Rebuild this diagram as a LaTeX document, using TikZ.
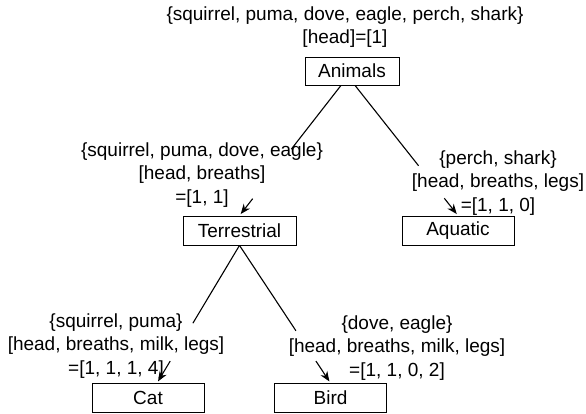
\documentclass[tikz,border=0pt]{standalone}
\usepackage{fontspec}
\setmainfont{Liberation Sans}
\usetikzlibrary{arrows.meta}
\newcommand\fsL{\fontsize{19}{23.5}\selectfont}

\begin{document}
\begin{tikzpicture}[x=1pt,y=-1pt,
  box/.style={draw,line width=0.8pt,minimum height=29pt,inner sep=0,font=\fsL},
  lbl/.style={align=center,font=\fsL,inner sep=0},
  edge/.style={line width=1.1pt},
  tip/.style={line width=1.1pt,shorten >=2pt,-{Stealth[length=10pt,width=8pt]}}]
\useasboundingbox (0,0) rectangle (586,414);
% ============ classes ============
\node[box,minimum width=94pt,minimum height=28pt] (animals) at (352,71) {Animals};
\node[box,minimum width=113pt] (terr)    at (239.5,230.5) {Terrestrial};
\node[box,minimum width=112pt] (aqua)    at (458,230.5)   {Aquatic};
\node[box,minimum width=112pt] (cat)     at (148,398)     {Cat};
\node[box,minimum width=112pt] (bird)    at (330.5,398)   {Bird};
% ============ splits ============
\coordinate (al) at ([xshift=-11pt]animals.south);
\coordinate (ar) at ([xshift=3pt]animals.south);
\coordinate (ct) at ([xshift=9pt]cat.north);
\path (al) -- (terr.north) coordinate[pos=0.49] (at1) coordinate[pos=0.87] (at2);
\path (ar) -- (aqua.north) coordinate[pos=0.617] (aq1) coordinate[pos=0.867] (aq2);
\path (terr.south) -- (ct) coordinate[pos=0.565] (tc1) coordinate[pos=0.84] (tc2);
\path (terr.south) -- (bird.north) coordinate[pos=0.62] (tb1) coordinate[pos=0.84] (tb2);
\draw[edge] (al) -- (at1);
\draw[tip]  (at2) -- (terr.north);
\draw[edge] (ar) -- (aq1);
\draw[tip]  (aq2) -- (aqua.north);
\draw[edge] (terr.south) -- (tc1);
\draw[tip]  (tc2) -- (ct);
\draw[edge] (terr.south) -- (tb1);
\draw[tip]  (tb2) -- (bird.north);
% ============ sets and features ============
\node[lbl] (lanimals) at (345,27)  {\{squirrel, puma, dove, eagle, perch, shark\}\\{}[head]=[1]};
\node[lbl] (lterr)    at (202,175) {\{squirrel, puma, dove, eagle\}\\{}[head, breaths]\\=[1, 1]};
\node[lbl] (laqua)    at (498,183) {\{perch, shark\}\\{}[head, breaths, legs]\\=[1, 1, 0]};
\node[lbl] (lcat)     at (116,346) {\{squirrel, puma\}\\{}[head, breaths, milk, legs]\\=[1, 1, 1, 4]};
\node[lbl] (lbird)    at (397,348) {\{dove, eagle\}\\{}[head, breaths, milk, legs]\\=[1, 1, 0, 2]};
\end{tikzpicture}
\end{document}
